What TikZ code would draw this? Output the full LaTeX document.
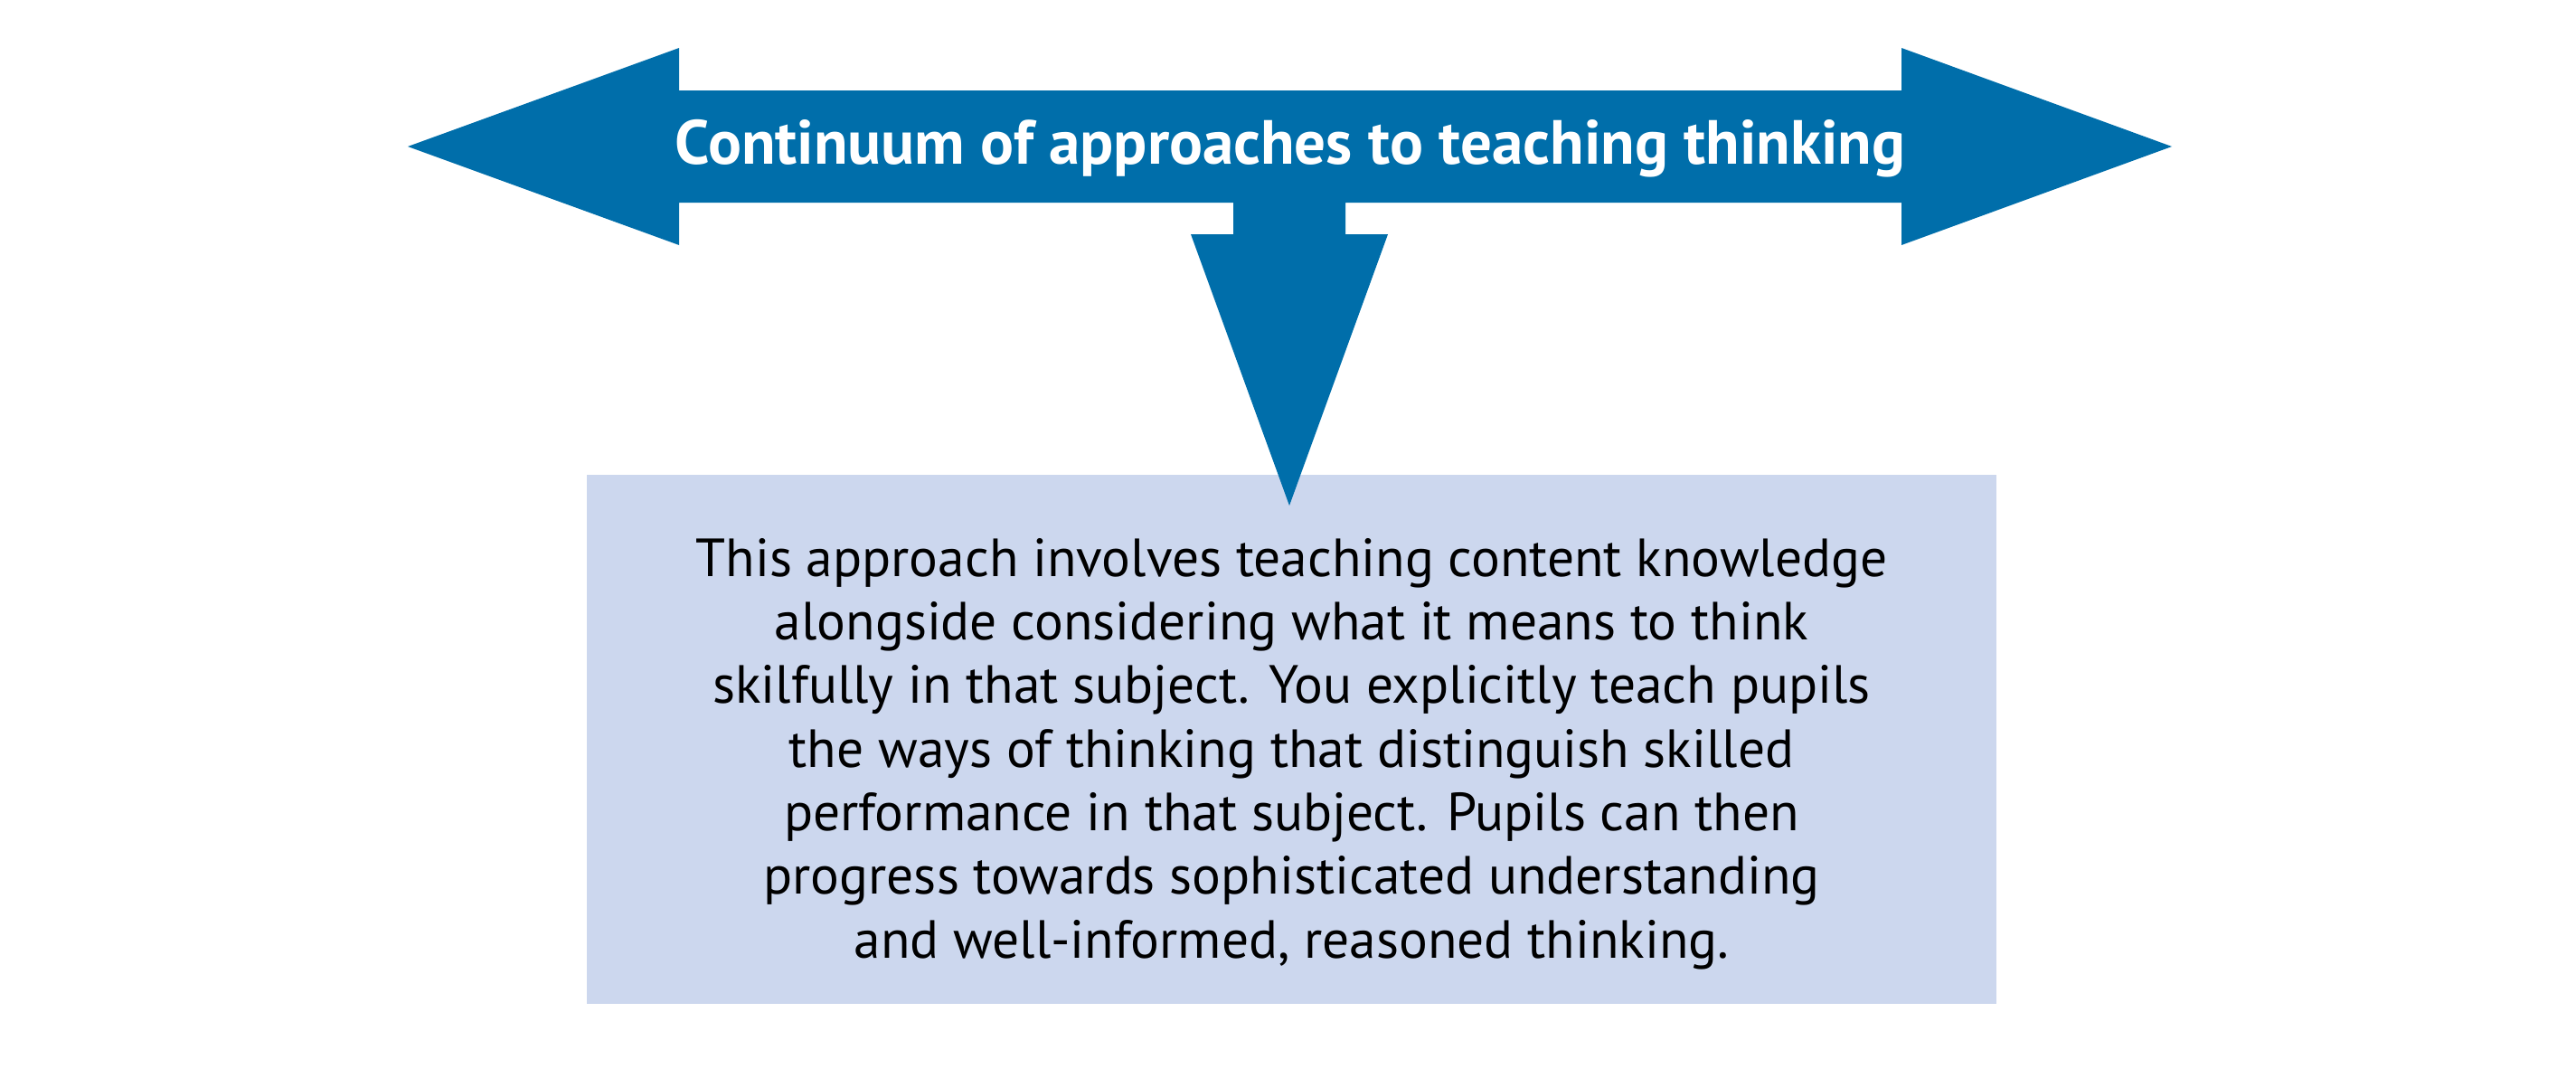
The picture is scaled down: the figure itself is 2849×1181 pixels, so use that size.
\documentclass[tikz,border=0pt]{standalone}
\usepackage{fontspec}
\setmainfont{PT Sans}
\usepackage{tikz}
\usetikzlibrary{positioning}

\definecolor{arrowblue}{RGB}{0,110,170}
\definecolor{boxblue}{RGB}{204,215,238}

\begin{document}
\begin{tikzpicture}[
  x=0.01cm, y=-0.01cm,
  every node/.style={inner sep=0pt, align=center},
  infobox/.style={fill=boxblue, minimum width=15.59cm, minimum height=5.85cm, font=\fontsize{16.9}{20}\selectfont},
  titletext/.style={text=white, font=\bfseries\fontsize{19.6}{22}\selectfont},
  blueshape/.style={fill=arrowblue, draw=none}
]
\useasboundingbox (0,0) rectangle (2849,1181);
% text block sits a little below the middle of the box
\node[infobox] (box) at (1428.5,817.5) {\rule{0pt}{0.74cm}This approach involves teaching content knowledge\\
alongside considering what it means to think\\
skilfully in that subject. You explicitly teach pupils\\
the ways of thinking that distinguish skilled\\
performance in that subject. Pupils can then\\
progress towards sophisticated understanding\\
and well-informed, reasoned thinking.};
\coordinate (tip) at (1426,559);
\fill[blueshape] (451,162) -- (751,53) -- (751,100) -- (2103,100) -- (2103,53)
  -- (2402,162) -- (2103,271) -- (2103,224) -- (1488,224) -- (1488,259)
  -- (1535,259) -- (tip) -- (1317,259) -- (1364,259) -- (1364,224)
  -- (751,224) -- (751,271) -- cycle;
\node[titletext, anchor=base] (title) at (1427,181) {Continuum of approaches to teaching thinking};
\end{tikzpicture}
\end{document}
